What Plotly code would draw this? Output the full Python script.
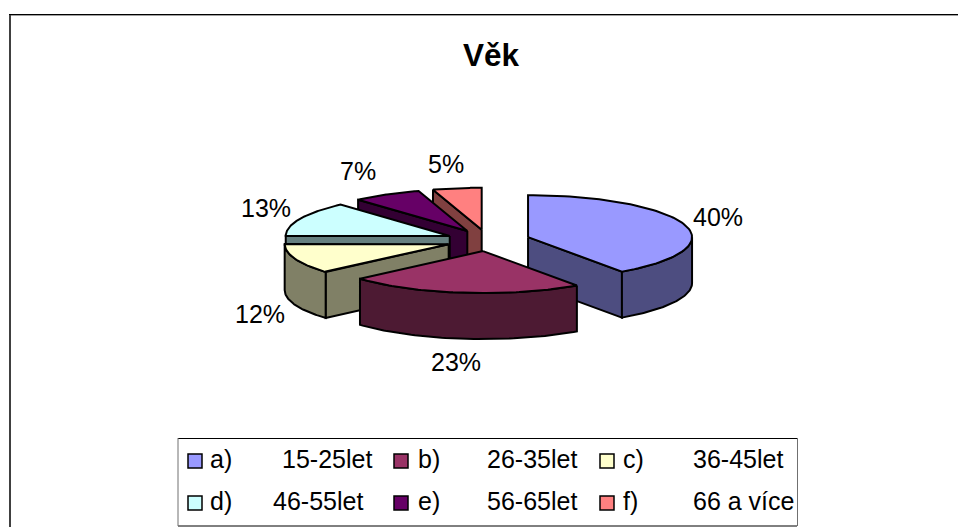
import numpy as np
import plotly.graph_objects as go

FONT = "Liberation Sans"

# Data (unrounded shares, labels show them rounded)
title = "Věk"
groups = ["a)", "b)", "c)", "d)", "e)", "f)"]
ranges = ["15-25let", "26-35let", "36-45let", "46-55let", "56-65let", "66 a více"]
shares = [40.3, 23.2, 11.6, 13.3, 6.8, 4.8]
top_colors = ["#9999ff", "#993366", "#ffffcc", "#ccffff", "#660066", "#ff8080"]
side_colors = ["#4d4d80", "#4d1a33", "#808066", "#668080", "#330033", "#804040"]

# Pie geometry, in pixels of the page
CX, CY = 488, 240.4
RX, RY = 164, 42
DEPTH = 46
EXPLODE = 0.256
LINE = 2

label_x = [718, 456, 260, 266, 358, 446]
label_y = [217, 362, 314, 208, 171, 164]

legend_marker_x = [195, 401, 607, 195, 401, 607]
legend_group_x = [208, 416, 621, 208, 416, 621]
legend_range_x = [280, 485, 691, 271, 485, 691]
legend_y = [459, 459, 459, 501, 501, 501]
legend_marker_y = [461, 461, 461, 503, 503, 503]


def rim(apex, angles):
    """Points of the outer edge for clockwise angles in degrees from 12 o'clock"""
    rad = np.radians(angles)
    return apex[0] + RX * np.sin(rad), apex[1] - RY * np.cos(rad)


def add_poly(fig, xs, ys, color, name):
    fig.add_trace(
        go.Scatter(
            x=list(xs) + [xs[0]],
            y=list(ys) + [ys[0]],
            mode="lines",
            fill="toself",
            fillcolor=color,
            line=dict(color="black", width=LINE),
            name=name,
            hoverinfo="name",
        )
    )


def add_radial_wall(fig, apex, angle, color, name):
    ex, ey = rim(apex, np.array([angle]))
    xs = [apex[0], ex[0], ex[0], apex[0]]
    ys = [apex[1], ey[0], ey[0] + DEPTH, apex[1] + DEPTH]
    add_poly(fig, xs, ys, color, name)


fig = go.Figure()

edges = np.cumsum([0] + shares) / sum(shares) * 360
slices = []
for i in range(len(shares)):
    start, end = edges[i], edges[i + 1]
    mid = np.radians((start + end) / 2)
    apex = (CX + EXPLODE * RX * np.sin(mid), CY - EXPLODE * RY * np.cos(mid))
    slices.append((i, start, end, apex))

# back to front: f, e, d, c, a, b
for i, start, end, apex in [slices[k] for k in (5, 4, 3, 2, 0, 1)]:
    name = f"{groups[i]} {ranges[i]}"
    if 180 < start < 360:
        add_radial_wall(fig, apex, start, side_colors[i], name)
    if 0 < end < 180:
        add_radial_wall(fig, apex, end, side_colors[i], name)
    lo, hi = max(start, 90), min(end, 270)
    if lo < hi:
        ax, ay = rim(apex, np.linspace(lo, hi, 60))
        add_poly(
            fig,
            np.concatenate([ax, ax[::-1]]),
            np.concatenate([ay, ay[::-1] + DEPTH]),
            side_colors[i],
            name,
        )
    tx, ty = rim(apex, np.linspace(start, end, 80))
    add_poly(
        fig,
        np.concatenate([[apex[0]], tx]),
        np.concatenate([[apex[1]], ty]),
        top_colors[i],
        name,
    )

# Legend markers
fig.add_trace(
    go.Scatter(
        x=legend_marker_x,
        y=legend_marker_y,
        mode="markers",
        marker=dict(
            symbol="square",
            size=14,
            color=top_colors,
            line=dict(color="black", width=1.5),
        ),
        hoverinfo="skip",
    )
)

annotations = [
    dict(x=491.5, y=55, text=f"<b>{title}</b>", font=dict(size=31.5), xanchor="center")
]
for i, v in enumerate(shares):
    annotations.append(
        dict(x=label_x[i], y=label_y[i], text=f"{round(v)}%", xanchor="center")
    )
for i in range(len(groups)):
    annotations.append(
        dict(x=legend_group_x[i], y=legend_y[i], text=groups[i], xanchor="left")
    )
    annotations.append(
        dict(x=legend_range_x[i], y=legend_y[i], text=ranges[i], xanchor="left")
    )

# Frame and legend box
frame = [
    dict(x0=10, y0=15.5, x1=958, y1=15.5, line=dict(color="#a0a0a0", width=1)),
    dict(x0=9, y0=14.5, x1=958, y1=14.5, line=dict(color="black", width=1)),
    dict(x0=10, y0=15, x1=10, y1=527, line=dict(color="#404040", width=2)),
    dict(x0=178, y0=438.5, x1=797, y1=438.5, line=dict(color="black", width=1)),
    dict(x0=178, y0=526, x1=797, y1=526, line=dict(color="black", width=1)),
    dict(x0=178, y0=438, x1=178, y1=526, line=dict(color="#707070", width=1)),
    dict(x0=797.5, y0=438, x1=797.5, y1=526, line=dict(color="#707070", width=1)),
]

fig.update_layout(
    width=958,
    height=527,
    margin=dict(l=0, r=0, t=0, b=0),
    paper_bgcolor="white",
    plot_bgcolor="white",
    showlegend=False,
    font=dict(family=FONT, size=25, color="black"),
    xaxis=dict(range=[0, 958], visible=False, fixedrange=True),
    yaxis=dict(range=[527, 0], visible=False, fixedrange=True),
    shapes=[dict(type="line", xref="x", yref="y", **s) for s in frame],
    annotations=[
        dict(xref="x", yref="y", showarrow=False, yanchor="middle", **a)
        for a in annotations
    ],
)

fig.write_html(
    "out.html",
    config=dict(displayModeBar=False),
    post_script="document.body.style.margin='0';",
)
